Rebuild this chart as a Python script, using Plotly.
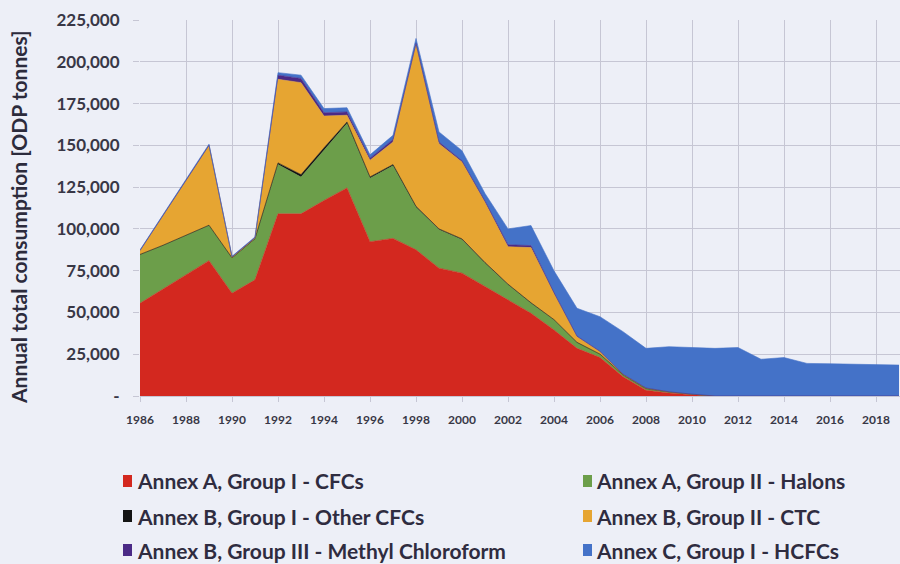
import plotly.graph_objects as go

# ---- data (ODP tonnes per year) ----
years = list(range(1986, 2020))

cfcs = [55500, 64000, 72500, 81000, 61500, 69500, 109000, 109000, 117000, 124500,
        92300, 94300, 87500, 76500, 73500, 65500, 58000, 49500, 39500, 28500,
        23000, 11500, 3500, 1800, 800, 0, 0, 0, 0, 0,
        0, 0, 0, 0]
halons = [29000, 26000, 23500, 21000, 21000, 24500, 29500, 22000, 30000, 38500,
          38000, 43500, 25500, 23000, 20000, 14000, 8500, 6000, 6000, 3500,
          2000, 1200, 1000, 700, 300, 0, 0, 0, 0, 0,
          0, 0, 0, 0]
other_cfcs = [200, 200, 200, 200, 200, 200, 1000, 1500, 1500, 1000,
              800, 700, 500, 500, 500, 400, 400, 300, 200, 100,
              50, 0, 0, 0, 0, 0, 0, 0, 0, 0,
              0, 0, 0, 0]
ctc = [2000, 17500, 33000, 47500, 300, 300, 50000, 55000, 19000, 4000,
       10000, 13500, 96500, 51000, 46000, 36000, 22400, 33000, 15700, 3400,
       1500, 300, 300, 0, 0, 0, 0, 0, 0, 0,
       0, 0, 0, 0]
methyl_chloroform = [400, 400, 400, 400, 300, 300, 2500, 2500, 2000, 2000,
                     1200, 1500, 1000, 1000, 800, 800, 1200, 1200, 500, 300,
                     200, 100, 0, 0, 0, 0, 0, 0, 0, 0,
                     0, 0, 0, 0]
hcfcs = [300, 500, 300, 600, 300, 400, 1500, 2000, 2500, 2500,
         2000, 2500, 3000, 6000, 6000, 4500, 9500, 12000, 13000, 16700,
         20700, 25400, 23700, 27000, 27900, 28500, 29000, 22000, 23000, 19500,
         19300, 19000, 18700, 18500]

series_names = ["Annex A, Group I - CFCs", "Annex A, Group II - Halons",
                "Annex B, Group I - Other CFCs", "Annex B, Group II - CTC",
                "Annex B, Group III - Methyl Chloroform", "Annex C, Group I - HCFCs"]
series_values = [cfcs, halons, other_cfcs, ctc, methyl_chloroform, hcfcs]
series_colors = ["#d3281f", "#6c9e4a", "#141414", "#e6a532", "#4b2a86", "#4472c8"]

x_ticks = list(range(1986, 2019, 2))
y_ticks = list(range(0, 225001, 25000))
y_ticktext = ["-" if v == 0 else f"{v:,}" for v in y_ticks]

# ---- canvas geometry ----
W, H = 900, 564
ML, MR, MT, MB = 140, 0, 20, 168
PW, PH = W - ML - MR, H - MT - MB
PX_PER_YEAR = 23.0

def px_x(x):
    return (x - ML) / PW

def px_y(y):
    return (H - MB - y) / PH

BG = "#edeff7"
GRID = "#c6c6d4"
TXT = "#383746"

fig = go.Figure()
for name, vals, col in zip(series_names, series_values, series_colors):
    fig.add_trace(go.Scatter(
        x=years, y=vals, name=name, stackgroup="one", mode="lines",
        line=dict(width=0.6, color=col), fillcolor=col, showlegend=False,
    ))

fig.update_layout(
    width=W, height=H,
    margin=dict(l=ML, r=MR, t=MT, b=MB, pad=0),
    paper_bgcolor=BG, plot_bgcolor=BG,
    font=dict(family="Lato, 'Open Sans', sans-serif", color=TXT),
    showlegend=False,
)
fig.update_xaxes(
    range=[1986, 1986 + PW / PX_PER_YEAR],
    tickmode="array", tickvals=x_ticks, ticktext=[str(t) for t in x_ticks],
    showgrid=True, gridcolor=GRID, gridwidth=1,
    showline=True, linecolor=GRID, linewidth=1,
    ticks="outside", ticklen=5, tickcolor=GRID,
    tickfont=dict(family="Lato", size=12, color=TXT, weight="bold"),
    ticklabelstandoff=8, zeroline=False,
)
fig.update_yaxes(
    range=[0, 225000],
    tickmode="array", tickvals=y_ticks, ticktext=y_ticktext,
    showgrid=True, gridcolor=GRID, gridwidth=1,
    ticks="outside", ticklen=6, tickcolor=GRID,
    tickfont=dict(family="Lato", size=17, color=TXT, weight="bold"),
    ticklabelstandoff=10, zeroline=False,
)

# y-axis title
fig.add_annotation(
    text="Annual total consumption [ODP tonnes]", textangle=-90,
    xref="paper", yref="paper", x=px_x(18), y=px_y(217),
    xanchor="center", yanchor="middle", showarrow=False,
    font=dict(family="Lato", size=21, color="#2c2b3c", weight="bold"),
)

# two-column legend
legend_cols = [(123, 135), (583, 594)]
legend_rows = [481, 516, 550]
for i, (name, col) in enumerate(zip(series_names, series_colors)):
    sq_x, tx_x = legend_cols[i % 2]
    ry = legend_rows[i // 2]
    fig.add_shape(type="rect", xref="paper", yref="paper",
                  x0=px_x(sq_x), x1=px_x(sq_x + 9),
                  y0=px_y(ry + 6), y1=px_y(ry - 6),
                  fillcolor=col, line=dict(width=0))
    fig.add_annotation(
        text=name, xref="paper", yref="paper", x=px_x(tx_x), y=px_y(ry),
        xanchor="left", yanchor="middle", showarrow=False,
        font=dict(family="Lato, sans-serif", size=21, color="#2f2c40", weight="bold"),
    )

fig.write_html("out.html")
